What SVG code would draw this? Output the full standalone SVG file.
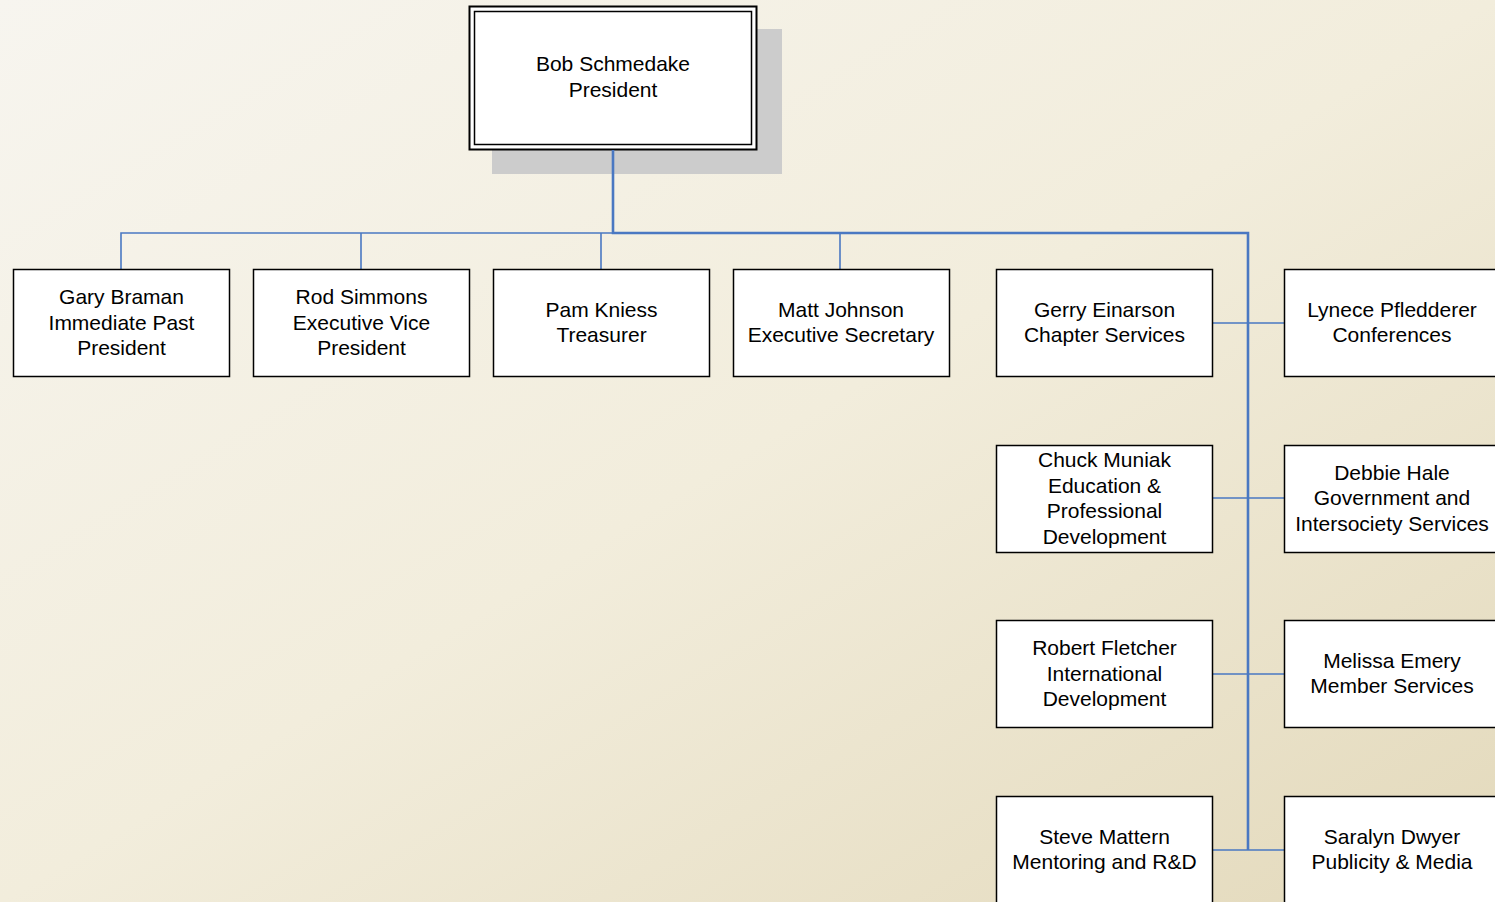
<svg xmlns="http://www.w3.org/2000/svg" width="1495" height="902" viewBox="0 0 1495 902">
<defs>
<linearGradient id="bg" x1="0" y1="0" x2="1" y2="1">
<stop offset="0" stop-color="#f7f5ef"/>
<stop offset="0.5" stop-color="#f2eddc"/>
<stop offset="1" stop-color="#e3d9bb"/>
</linearGradient>
<style>
.box{fill:#fff;stroke:#000;stroke-width:1.5}
.t{font-family:"Liberation Sans",Arial,sans-serif;font-size:21px;fill:#000;text-anchor:middle}
.c{stroke:#4a78c2;fill:none}
.thin{stroke-width:1.6}
.thick{stroke-width:2.6}
</style>
</defs>
<rect x="0" y="0" width="1495" height="902" fill="url(#bg)"/>
<g id="president">
<rect x="492" y="29" width="290" height="145" fill="#cccccc"/>
<rect x="469.5" y="6.5" width="287" height="143" fill="#fff" stroke="#000" stroke-width="2"/>
<rect x="474.5" y="11.5" width="277" height="133" fill="none" stroke="#000" stroke-width="1.5"/>
<text class="t" x="613" y="71">Bob Schmedake</text>
<text class="t" x="613" y="97">President</text>
</g>
<g id="connectors">
<path class="c thick" d="M613 150V233H1248V850"/>
<path class="c thin" d="M613 233H121V269M361 233V269M601 233V269M840 233V269"/>
<path class="c thin" d="M1213 323H1284M1213 498H1284M1213 674H1284M1213 850H1284"/>
</g>
<g id="gary">
<rect class="box" x="13.5" y="269.5" width="216" height="107"/>
<text class="t" x="121.5" y="304">Gary Braman</text>
<text class="t" x="121.5" y="330">Immediate Past</text>
<text class="t" x="121.5" y="355">President</text>
</g>
<g id="rod">
<rect class="box" x="253.5" y="269.5" width="216" height="107"/>
<text class="t" x="361.5" y="304">Rod Simmons</text>
<text class="t" x="361.5" y="330">Executive Vice</text>
<text class="t" x="361.5" y="355">President</text>
</g>
<g id="pam">
<rect class="box" x="493.5" y="269.5" width="216" height="107"/>
<text class="t" x="601.5" y="317">Pam Kniess</text>
<text class="t" x="601.5" y="342">Treasurer</text>
</g>
<g id="matt">
<rect class="box" x="733.5" y="269.5" width="216" height="107"/>
<text class="t" x="841" y="317">Matt Johnson</text>
<text class="t" x="841" y="342">Executive Secretary</text>
</g>
<g id="gerry">
<rect class="box" x="996.5" y="269.5" width="216" height="107"/>
<text class="t" x="1104.5" y="317">Gerry Einarson</text>
<text class="t" x="1104.5" y="342">Chapter Services</text>
</g>
<g id="lynece">
<rect class="box" x="1284.5" y="269.5" width="216" height="107"/>
<text class="t" x="1392" y="317">Lynece Pfledderer</text>
<text class="t" x="1392" y="342">Conferences</text>
</g>
<g id="chuck">
<rect class="box" x="996.5" y="445.5" width="216" height="107"/>
<text class="t" x="1104.5" y="467">Chuck Muniak</text>
<text class="t" x="1104.5" y="493">Education &amp;</text>
<text class="t" x="1104.5" y="518">Professional</text>
<text class="t" x="1104.5" y="544">Development</text>
</g>
<g id="debbie">
<rect class="box" x="1284.5" y="445.5" width="216" height="107"/>
<text class="t" x="1392" y="480">Debbie Hale</text>
<text class="t" x="1392" y="505">Government and</text>
<text class="t" x="1392" y="531">Intersociety Services</text>
</g>
<g id="robert">
<rect class="box" x="996.5" y="620.5" width="216" height="107"/>
<text class="t" x="1104.5" y="655">Robert Fletcher</text>
<text class="t" x="1104.5" y="681">International</text>
<text class="t" x="1104.5" y="706">Development</text>
</g>
<g id="melissa">
<rect class="box" x="1284.5" y="620.5" width="216" height="107"/>
<text class="t" x="1392" y="668">Melissa Emery</text>
<text class="t" x="1392" y="693">Member Services</text>
</g>
<g id="steve">
<rect class="box" x="996.5" y="796.5" width="216" height="107"/>
<text class="t" x="1104.5" y="844">Steve Mattern</text>
<text class="t" x="1104.5" y="869">Mentoring and R&amp;D</text>
</g>
<g id="saralyn">
<rect class="box" x="1284.5" y="796.5" width="216" height="107"/>
<text class="t" x="1392" y="844">Saralyn Dwyer</text>
<text class="t" x="1392" y="869">Publicity &amp; Media</text>
</g>
</svg>
